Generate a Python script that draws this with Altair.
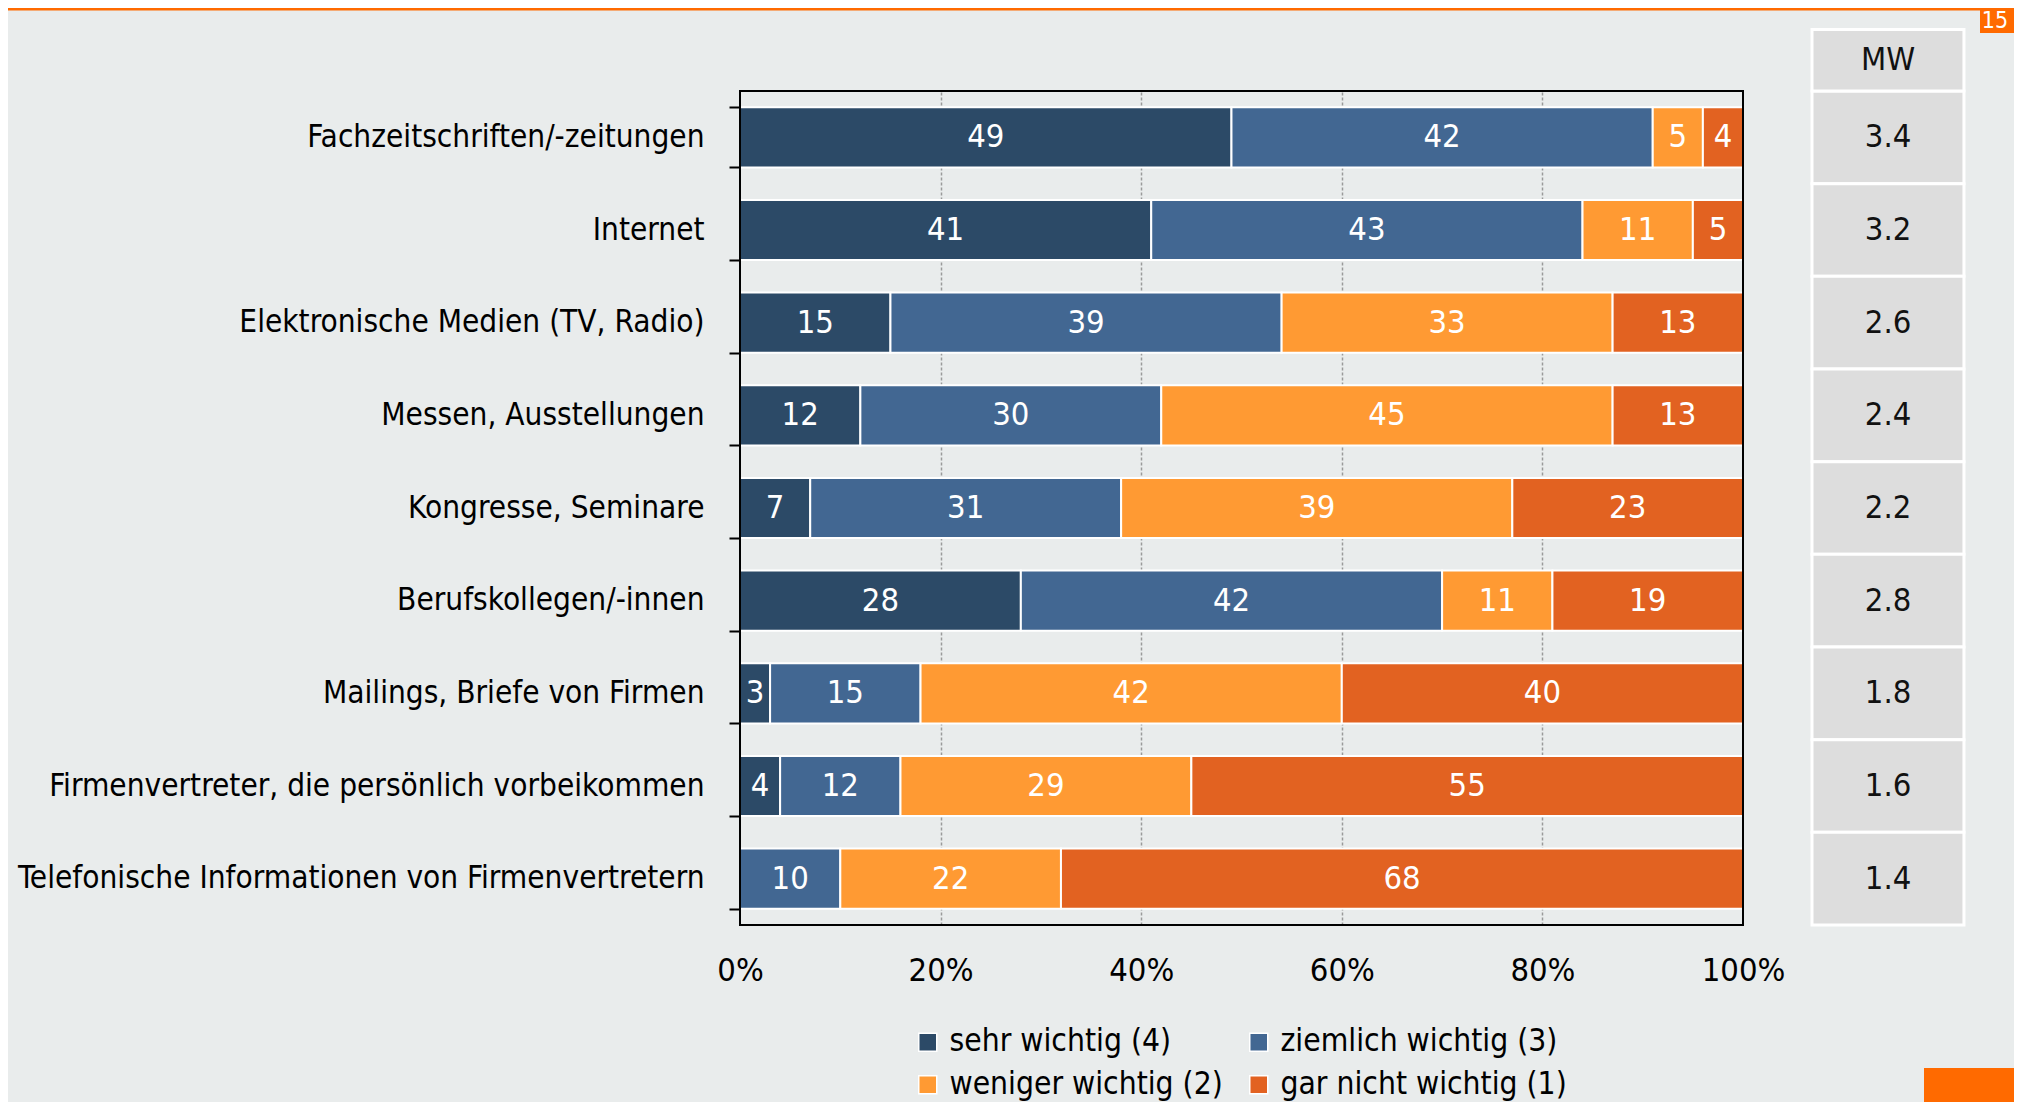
import altair as alt
import pandas as pd

FONT = "'DejaVu Sans Condensed', 'DejaVu Sans', sans-serif"

categories = [
    "Fachzeitschriften/-zeitungen",
    "Internet",
    "Elektronische Medien (TV, Radio)",
    "Messen, Ausstellungen",
    "Kongresse, Seminare",
    "Berufskollegen/-innen",
    "Mailings, Briefe von Firmen",
    "Firmenvertreter, die persönlich vorbeikommen",
    "Telefonische Informationen von Firmenvertretern",
]
levels = ["sehr wichtig (4)", "ziemlich wichtig (3)", "weniger wichtig (2)", "gar nicht wichtig (1)"]
sehr_wichtig = [49, 41, 15, 12, 7, 28, 3, 4, 0]
ziemlich_wichtig = [42, 43, 39, 30, 31, 42, 15, 12, 10]
weniger_wichtig = [5, 11, 33, 45, 39, 11, 42, 29, 22]
gar_nicht_wichtig = [4, 5, 13, 13, 23, 19, 40, 55, 68]
mittelwert = [3.4, 3.2, 2.6, 2.4, 2.2, 2.8, 1.8, 1.6, 1.4]
x_ticks = [0, 0.2, 0.4, 0.6, 0.8, 1.0]

colors = ["#2C4A67", "#426792", "#FF9A33", "#E26221"]

rows = []
for i, c in enumerate(categories):
    for k, vals in enumerate([sehr_wichtig, ziemlich_wichtig, weniger_wichtig, gar_nicht_wichtig]):
        rows.append({"cat": c, "level": levels[k], "ord": k, "v": vals[i]})
df = pd.DataFrame(rows)
mw_df = pd.DataFrame({"cat": categories, "mw": mittelwert, "row": list(range(len(categories)))})

W, H = 1003, 834

xscale = alt.Scale(domain=[0, 1], nice=False, zero=False)
yscale = alt.Scale(domain=categories, paddingInner=0.35, paddingOuter=0.175)
yq = alt.Scale(domain=[0, 9], reverse=True, nice=False, zero=False)

xaxis = alt.Axis(
    title=None, values=x_ticks, format=".0%", domain=False, ticks=False, labelFlush=False,
    labelFont=FONT, labelFontSize=32.5, labelColor="black", labelPadding=29,
    grid=True, gridColor="#9A9A9A", gridDash=[3, 2], gridWidth=1.5,
    gridOpacity={"condition": {"test": "datum.value <= 0 || datum.value >= 1", "value": 0}, "value": 1},
)
yaxis = alt.Axis(
    title=None, domain=False, ticks=True, tickBand="extent", tickSize=11, tickWidth=2,
    tickColor="black", labelFont=FONT, labelFontSize=31.3, labelColor="black",
    labelPadding=25, labelLimit=1200, grid=False,
)

base = (
    alt.Chart(df)
    .transform_filter("datum.v > 0")
    .transform_stack(stack="v", groupby=["cat"], sort=[alt.SortField("ord")], as_=["s0", "s1"])
    .transform_calculate(x0="datum.s0/100", x1="datum.s1/100", mid="(datum.s0+datum.s1)/200")
)

bars = base.mark_bar(stroke="white", strokeWidth=2).encode(
    y=alt.Y("cat:N", scale=yscale, axis=yaxis),
    x=alt.X("x0:Q", scale=xscale, axis=xaxis),
    x2="x1:Q",
    color=alt.Color(
        "level:N",
        scale=alt.Scale(domain=levels, range=colors),
        legend=alt.Legend(
            orient="none", legendX=172, legendY=935, columns=2, direction="horizontal", title=None,
            symbolType="square", symbolSize=324, symbolStrokeColor="white",
            symbolStrokeWidth=1.5, symbolOpacity=1, labelFont=FONT, labelFontSize=31.5,
            labelColor="black", labelLimit=600, columnPadding=20, rowPadding=10,
            labelOffset=6, padding=0,
        ),
    ),
)
labels = base.mark_text(color="white", font=FONT, fontSize=32.5, baseline="middle").encode(
    y=alt.Y("cat:N", scale=yscale, axis=yaxis),
    x=alt.X("mid:Q", scale=xscale, axis=xaxis),
    text="v:Q",
)
main = alt.layer(bars, labels)

mw_base = alt.Chart(mw_df).transform_calculate(
    x0="1.0688", x1="1.2203", xm="1.1446", y0="datum.row", y1="datum.row + 1", ym="datum.row + 0.5",
    lab="format(datum.mw, '.1f')",
)
mw_rect = mw_base.mark_rect(fill="#DDDDDD", stroke="white", strokeWidth=3).encode(
    x=alt.X("x0:Q", scale=xscale, axis=xaxis), x2="x1:Q",
    y=alt.Y("y0:Q", scale=yq, axis=None), y2="y1:Q",
)
mw_text = mw_base.mark_text(color="#111111", font=FONT, fontSize=32.5, baseline="middle").encode(
    x=alt.X("xm:Q", scale=xscale, axis=xaxis),
    y=alt.Y("ym:Q", scale=yq, axis=None),
    text="lab:N",
)
head_base = alt.Chart(pd.DataFrame({"t": ["MW"]})).transform_calculate(
    x0="1.0688", x1="1.2203", xm="1.1446", y0="-0.665", y1="0", ym="-0.33",
)
head_rect = head_base.mark_rect(fill="#DDDDDD", stroke="white", strokeWidth=3).encode(
    x=alt.X("x0:Q", scale=xscale, axis=xaxis), x2="x1:Q",
    y=alt.Y("y0:Q", scale=yq, axis=None), y2="y1:Q",
)
head_text = head_base.mark_text(color="#111111", font=FONT, fontSize=32.5, baseline="middle").encode(
    x=alt.X("xm:Q", scale=xscale, axis=xaxis),
    y=alt.Y("ym:Q", scale=yq, axis=None),
    text="t:N",
)
frame = alt.Chart(pd.DataFrame({"a": [0], "b": [1], "c": [0], "d": [9]})).mark_rect(
    fillOpacity=0, stroke="black", strokeWidth=2
).encode(
    x=alt.X("a:Q", scale=xscale, axis=xaxis), x2="b:Q",
    y=alt.Y("c:Q", scale=yq, axis=None), y2="d:Q",
)
side = alt.layer(mw_rect, mw_text, head_rect, head_text, frame)

# page decorations
deco_df = pd.DataFrame({"t": ["15"]})
topline = alt.Chart(deco_df).mark_rule(color="#FF6A00", strokeWidth=3).encode(
    x=alt.value(-732), x2=alt.value(1240), y=alt.value(-82)
)
badge = alt.Chart(deco_df).mark_rect(fill="#FF6A00").encode(
    x=alt.value(1240), x2=alt.value(1290), y=alt.value(-91), y2=alt.value(-58)
)
badge_text = alt.Chart(deco_df).mark_text(color="white", font=FONT, fontSize=23, baseline="middle").encode(
    x=alt.value(1255), y=alt.value(-70), text="t:N"
)
logo = alt.Chart(deco_df).mark_rect(fill="#FF6A00").encode(
    x=alt.value(1184), x2=alt.value(1290), y=alt.value(977), y2=alt.value(1015)
)

chart = (
    alt.layer(main, side, topline, badge, badge_text, logo)
    .resolve_scale(y="independent")
    .properties(
        width=W, height=H,
        padding={"left": 732, "top": 83, "right": 271, "bottom": 177},
        autosize=alt.AutoSizeParams(type="none"),
        background="#E9ECEC",
    )
    .configure_view(strokeWidth=0)
)

chart.save("out.html", embed_options={"renderer": "svg", "actions": False})
